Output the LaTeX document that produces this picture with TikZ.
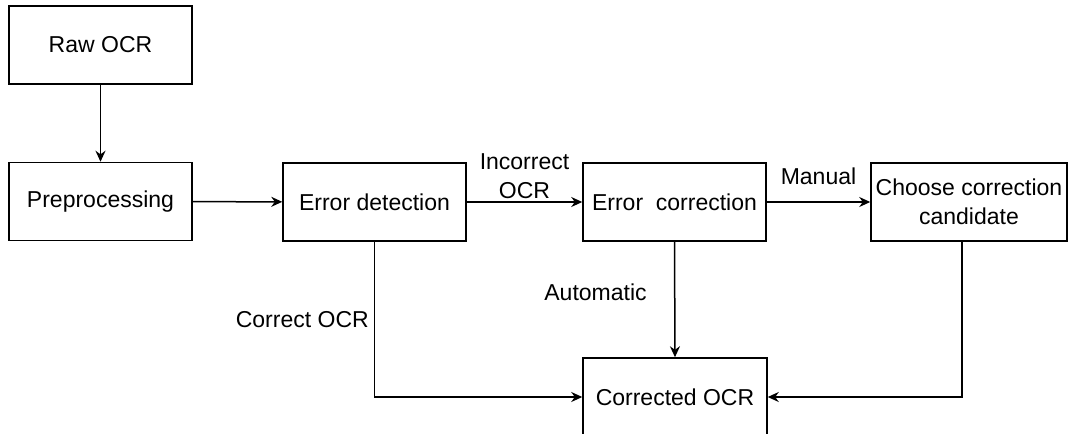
\documentclass[tikz,border=0pt]{standalone}
\usepackage{fontspec}
\setmainfont{Liberation Sans}
\usetikzlibrary{arrows.meta,positioning}

\begin{document}
\begin{tikzpicture}[
  x=1pt,
  y=-1pt,
  line width=1.5pt,
  font=\fontsize{23}{29}\selectfont,
  stage/.style={
    draw,
    minimum width=183pt,
    minimum height=78pt,
    inner sep=0pt,
    align=center
  },
  flow/.style={
    -{Stealth[length=11pt,width=10pt]}
  },
  tag/.style={
    align=center
  }
]
  \useasboundingbox (0,0) rectangle (1069,434);
  \node[stage] (raw) at (100.5,45) {Raw OCR};
  \node[stage] (prep) at (100.5,201.5) {Preprocessing};
  \node[stage] (detect) at (374.5,202) {Error detection};
  \node[stage] (correct) at (674.5,202) {Error\ \ correction};
  \node[stage,minimum width=196pt] (choose) at (969,202)
    {Choose correction\\candidate};
  \node[stage,minimum width=184pt] (corrected) at (675,397) {Corrected OCR};
  \draw[flow] (raw) -- (prep);
  \draw[flow] (prep) -- (detect);
  \draw[flow] (detect) -- (correct)
    node[tag,midway,above,inner sep=3pt] {Incorrect\\OCR};
  \draw[flow] (correct) -- (choose)
    node[tag,midway,above,inner sep=17pt] {Manual};
  \draw[flow] (detect.south) |- (corrected.west)
    node[tag,pos=0.25,left,inner sep=5pt] {Correct OCR};
  \draw[flow] (correct.south) -- (corrected.north)
    node[tag,pos=0.44,left=24pt] {Automatic};
  \draw[flow] ([xshift=-7pt]choose.south) |- (corrected.east);
\end{tikzpicture}
\end{document}
